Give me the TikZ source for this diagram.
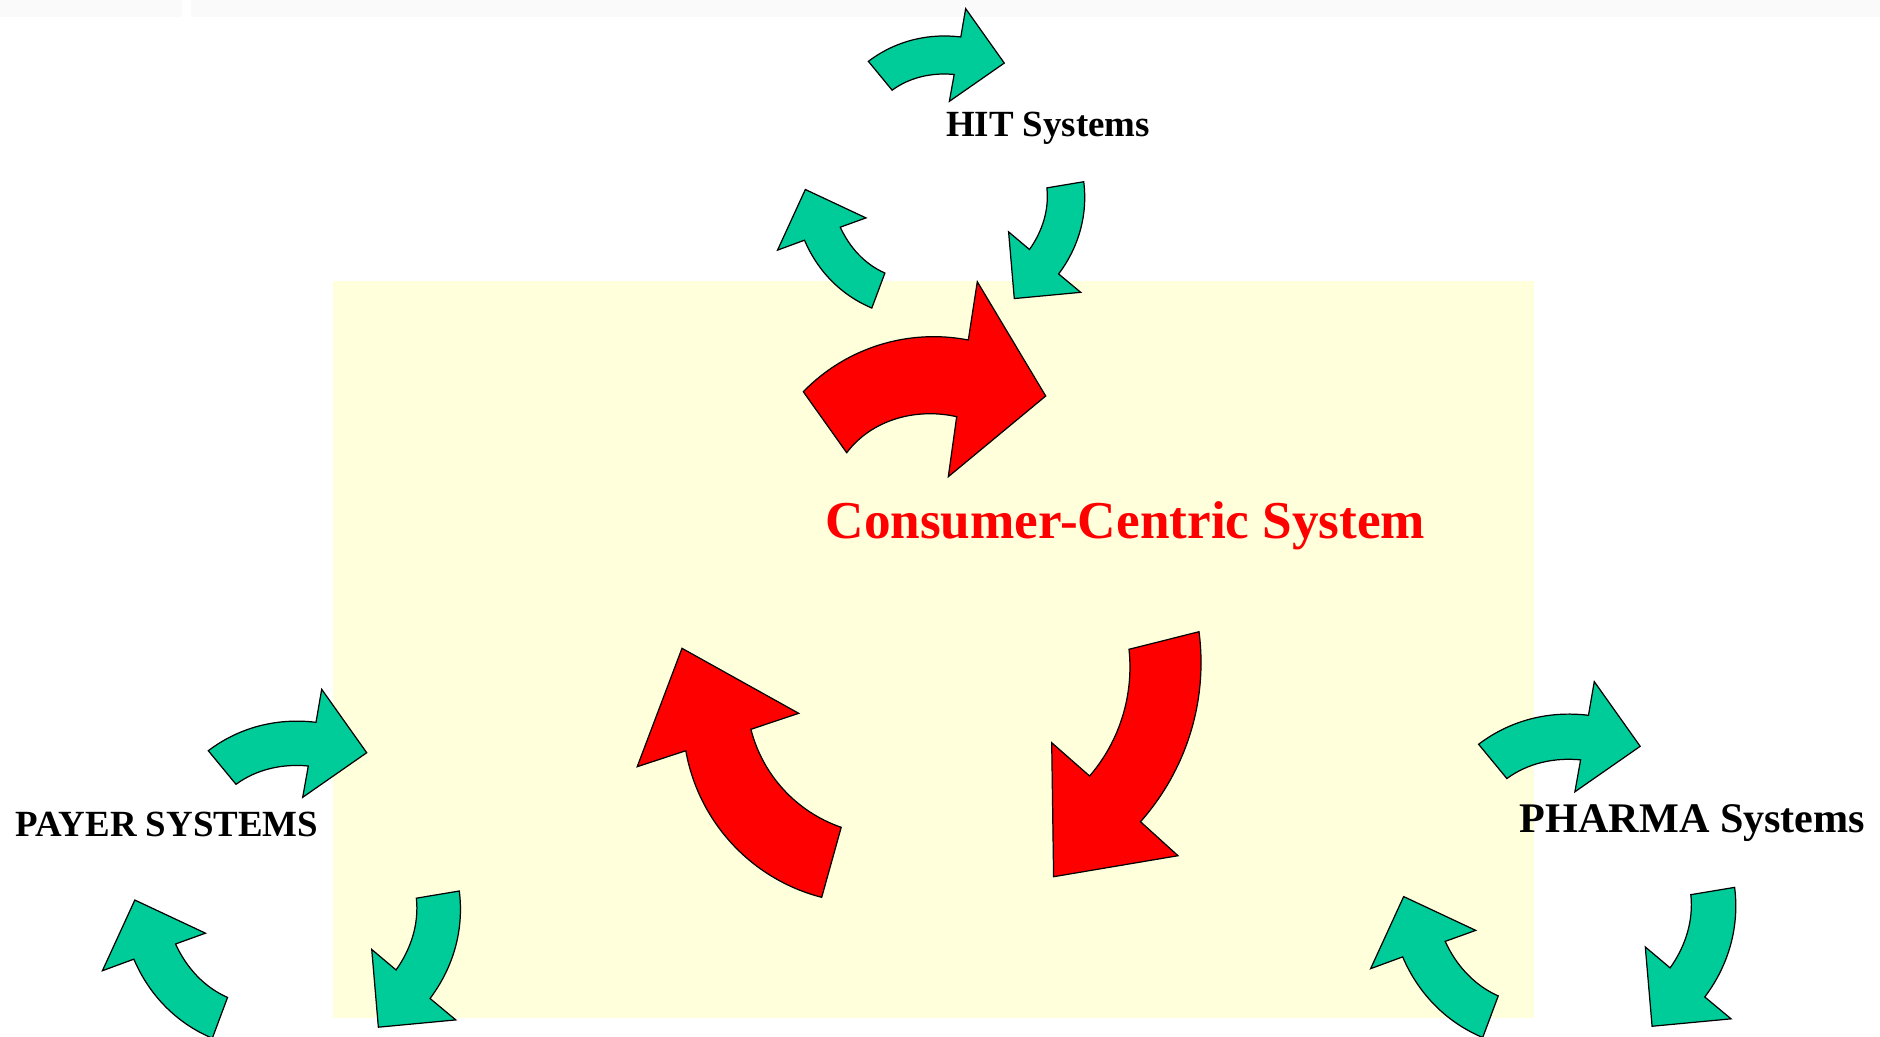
\documentclass[tikz,border=0pt]{standalone}
\usepackage{fontspec}
\setmainfont{Liberation Serif}
\usepackage{tikz}
\definecolor{cyclegreen}{RGB}{0,204,153}
\definecolor{bgyellow}{RGB}{255,255,220}
\definecolor{bandgray}{RGB}{250,250,250}
\tikzset{
  greenarrow/.style={fill=cyclegreen, draw=black, line width=0.7pt},
  redarrow/.style={fill=red, draw=black, line width=0.7pt},
  syslabel/.style={font=\bfseries\fontsize{21}{25}\selectfont, anchor=base, inner sep=0pt},
  cycle arrow/.pic={
    \draw [greenarrow] (-85,-142.6) .. controls (-53.9,-166.2) and (-16,-175.7) .. (22.7,-171)
      -- (28.4,-204) -- (73.4,-140.6) -- (9.4,-96) -- (15,-127.3)
      .. controls (-10.6,-129.8) and (-36.6,-124.2) .. (-57.3,-109) -- cycle;
  }
}
\begin{document}
\begin{tikzpicture}[x=0.02cm, y=-0.02cm]
\useasboundingbox (0,0) rectangle (1880,1036);
\fill [bandgray] (0,0) rectangle (182,17);
\fill [bandgray] (191,0) rectangle (1880,17);
\fill [bgyellow] (333,281) rectangle (1534,1018);
% three green cycles
\foreach \r in {0,-120,-240} {
  \pic [scale=0.858, rotate=\r] at (941.3,183.7) {cycle arrow};
  \pic [rotate=\r] at (293.3,893.3) {cycle arrow};
  \pic [scale=1.02, rotate=\r] at (1565.3,889.7) {cycle arrow};
}
% red cycle
\draw [redarrow] (803.3,391.7) .. controls (846,347.7) and (908.1,328.3) .. (968.3,340)
  -- (977.3,281.7) -- (1045.7,396) -- (948.3,476.7) -- (956.7,416.7)
  .. controls (916.1,407.5) and (871.8,419.5) .. (846.7,452.7) -- cycle;
\draw [redarrow] (821.7,897.3) .. controls (751.6,879.3) and (698.5,822) .. (685.8,750.7)
  -- (637.2,766.7) -- (682,648.3) -- (798.7,713.3) -- (750.9,729.3)
  .. controls (762.6,775.1) and (796.5,811.9) .. (841.2,827.3) -- cycle;
\draw [redarrow] (1199,631.7) .. controls (1208,700.6) and (1186.6,769.7) .. (1140.5,821.7)
  -- (1178,855.7) -- (1053.6,876.7) -- (1051.7,742.7) -- (1089.6,776)
  .. controls (1119.7,741.1) and (1133.9,695.1) .. (1129,649.3) -- cycle;
\node [syslabel] (hit) at (1048,136) {HIT Systems};
\node [syslabel] (payer) at (167,836) {PAYER SYSTEMS};
\node [syslabel, font=\bfseries\fontsize{24}{28}\selectfont] (pharma) at (1692.5,832) {PHARMA Systems};
\node [syslabel, text=red, font=\bfseries\fontsize{30.3}{36}\selectfont] (consumer) at (1125.5,538) {Consumer-Centric System};
\end{tikzpicture}
\end{document}
